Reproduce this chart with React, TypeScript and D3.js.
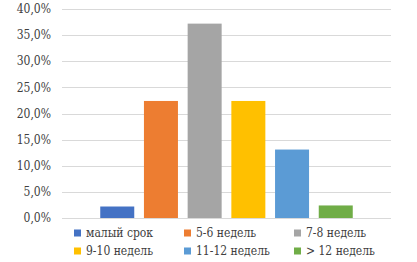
import React from "react";
import * as d3 from "d3";

const seriesNames = ["малый срок", "5-6 недель", "7-8 недель", "9-10 недель", "11-12 недель", "> 12 недель"];
const seriesValues = [2.2, 22.4, 37.2, 22.4, 13.1, 2.4];
const seriesColors = ["#4472C4", "#ED7D31", "#A5A5A5", "#FFC000", "#5B9BD5", "#70AD47"];
const yTicks = [0, 5, 10, 15, 20, 25, 30, 35, 40];

const W = 417;
const H = 262;
const plot = { left: 62, right: 391, top: 9, bottom: 218 };
const FONT = "'DejaVu Serif Condensed', 'DejaVu Serif', serif";

export default function App() {
  const y = d3.scaleLinear().domain([0, 40]).range([plot.bottom, plot.top]);
  const clusterCenter = (plot.left + plot.right) / 2;
  const barW = 34;
  const step = 43.7;
  const x = d3
    .scaleBand<string>()
    .domain(seriesNames)
    .range([clusterCenter - (step * 6) / 2, clusterCenter + (step * 6) / 2])
    .paddingInner((step - barW) / step)
    .paddingOuter((step - barW) / step / 2);
  const fmt = (v: number) => v.toFixed(1).replace(".", ",") + "%";
  const legendCols = [77, 187, 297];
  const legendRows = [233, 251];
  return (
    <svg
      width={W}
      height={H}
      style={{ position: "absolute", left: 0, top: 0, background: "#fff", fontFamily: FONT }}
    >
      {yTicks.map((t) => (
        <g key={t}>
          <line
            x1={plot.left}
            x2={plot.right}
            y1={Math.round(y(t)) + 0.5}
            y2={Math.round(y(t)) + 0.5}
            stroke="#D9D9D9"
            strokeWidth={1}
          />
          <text
            x={51}
            y={y(t)}
            dy="0.35em"
            textAnchor="end"
            fontSize={12}
            fill="#404040"
            style={{ fontFamily: FONT, fontStretch: "condensed" }}
          >
            {fmt(t)}
          </text>
        </g>
      ))}
      {seriesNames.map((n, i) => (
        <rect
          key={n}
          x={x(n)}
          y={y(seriesValues[i])}
          width={x.bandwidth()}
          height={y(0) - y(seriesValues[i])}
          fill={seriesColors[i]}
        />
      ))}
      {seriesNames.map((n, i) => {
        const cx = legendCols[i % 3];
        const cy = legendRows[Math.floor(i / 3)];
        return (
          <g key={"l" + n}>
            <rect x={cx - 3} y={cy - 3.5} width={7} height={7} fill={seriesColors[i]} />
            <text
              x={cx + 9}
              y={cy}
              dy="0.35em"
              fontSize={12}
              fill="#404040"
              style={{ fontFamily: FONT, fontStretch: "condensed" }}
            >
              {n}
            </text>
          </g>
        );
      })}
    </svg>
  );
}
